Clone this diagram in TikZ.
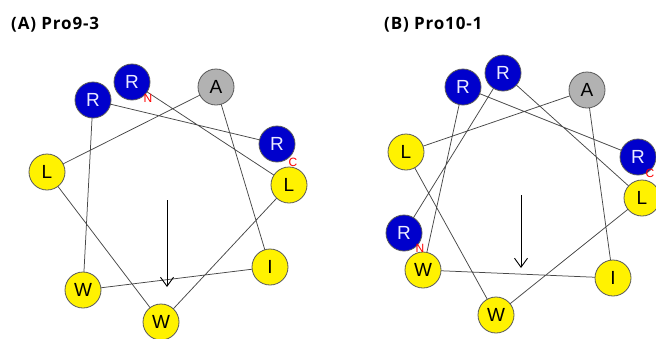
\documentclass[tikz,border=0pt]{standalone}
\usepackage{fontspec}
\setmainfont{Liberation Sans}
\newfontfamily\titlefont[LetterSpace=5]{Open Sans}
\usetikzlibrary{arrows.meta,backgrounds}
\tikzset{
  res/.style={circle,draw=black!65,line width=0.8pt,minimum size=36pt,inner sep=0pt,font=\fontsize{19}{19}\selectfont},
  blu/.style={res,fill=blue!80!black,text=blue!8},
  yel/.style={res,fill=yellow,text=black},
  gry/.style={res,fill=black!30,text=black},
  link/.style={draw=black!72,line width=0.75pt},
  term/.style={text=red,font=\fontsize{12}{12}\selectfont,inner sep=0pt},
  ttl/.style={font=\titlefont\bfseries\fontsize{17}{17}\selectfont,anchor=west,inner sep=0pt},
}
\begin{document}
\begin{tikzpicture}[x=1pt,y=-1pt]
\clip (0,0) rectangle (656,338);
\useasboundingbox (0,0) rectangle (656,338);
% Panel A
\node[ttl] (ta) at (11,25) {(A) Pro9-3};
\node[blu] (a1) at (132,82) {R};
\node[yel] (a2) at (289,185) {L};
\node[yel] (a3) at (161,322) {W};
\node[yel] (a4) at (47,172) {L};
\node[gry] (a5) at (216,87) {A};
\node[yel] (a6) at (270,267) {I};
\node[yel] (a7) at (83,290) {W};
\node[blu] (a8) at (93,100) {R};
\node[blu] (a9) at (277,144) {R};
\node[term] (na) at (148,98) {N};
\node[term] (ca) at (293,162) {C};
\coordinate (aas) at (167,200);
\coordinate (aae) at (167,287);
\draw[line width=0.9pt,-{Straight Barb[length=9pt,width=13pt,line width=0.9pt]}] (aas) -- (aae);
\begin{scope}[on background layer]
\draw[link] (a1.center) -- (a2.center) -- (a3.center) -- (a4.center) -- (a5.center) -- (a6.center) -- (a7.center) -- (a8.center) -- (a9.center);
\end{scope}
% Panel B
\node[ttl] (tb) at (384,25) {(B) Pro10-1};
\node[blu] (b1) at (404,233) {R};
\node[blu] (b2) at (503,73) {R};
\node[yel] (b3) at (642,198) {L};
\node[yel] (b4) at (496,315) {W};
\node[yel] (b5) at (406,152) {L};
\node[gry] (b6) at (587,90) {A};
\node[yel] (b7) at (613,278) {I};
\node[yel] (b8) at (423,270) {W};
\node[blu] (b9) at (463,87) {R};
\node[blu] (b10) at (638,157) {R};
\node[term] (nb) at (420,248) {N};
\node[term] (cb) at (650,173) {C};
\coordinate (bas) at (521,195);
\coordinate (bae) at (521,268);
\draw[line width=0.9pt,-{Straight Barb[length=9pt,width=13pt,line width=0.9pt]}] (bas) -- (bae);
\begin{scope}[on background layer]
\draw[link] (b1.center) -- (b2.center) -- (b3.center) -- (b4.center) -- (b5.center) -- (b6.center) -- (b7.center) -- (b8.center) -- (b9.center) -- (b10.center);
\end{scope}
\end{tikzpicture}
\end{document}
